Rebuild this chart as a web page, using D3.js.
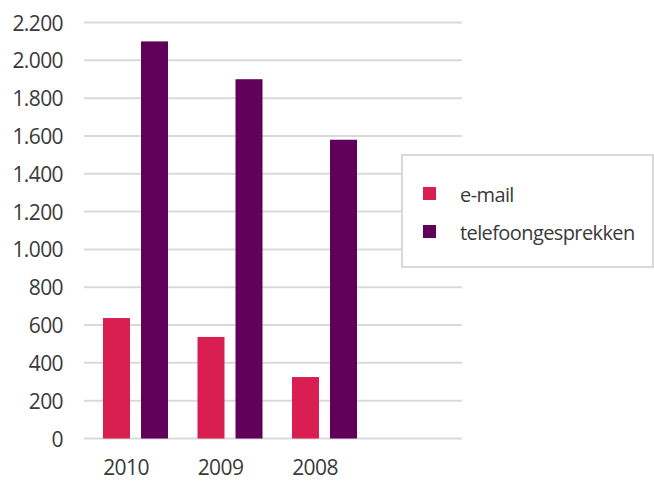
<!DOCTYPE html>
<html>
<head>
<meta charset="utf-8">
<script src="https://cdn.jsdelivr.net/npm/d3@7"></script>
<style>
  html, body { margin: 0; padding: 0; background: #fff; }
  svg { display: block; }
  text { font-family: "Open Sans", "Noto Sans", sans-serif; fill: #3a3a3a; }
</style>
</head>
<body>
<svg id="chart" width="654" height="481"></svg>
<script>
const categories = ["2010", "2009", "2008", ""];
const seriesNames = ["e-mail", "telefoongesprekken"];
const emailValues = [637, 537, 325, null];
const phoneValues = [2100, 1900, 1580, null];
const yTicks = [0, 200, 400, 600, 800, 1000, 1200, 1400, 1600, 1800, 2000, 2200];
const colors = ["#d91e52", "#610058"];

const svg = d3.select("#chart");
const plot = { left: 84, right: 462, top: 22.5, bottom: 438.5 };

const x0 = d3.scaleBand().domain(categories).range([plot.left, plot.right]).padding(0);
const x1 = d3.scaleBand().domain(seriesNames).range([19, 84]).paddingInner(0.29).paddingOuter(0);
const y = d3.scaleLinear().domain([0, 2200]).range([plot.bottom, plot.top]);
const color = d3.scaleOrdinal().domain(seriesNames).range(colors);

const fmt = v => d3.format(",")(v).replace(/,/g, ".");

// gridlines
svg.append("g").selectAll("line").data(yTicks).join("line")
  .attr("x1", plot.left).attr("x2", plot.right)
  .attr("y1", d => y(d)).attr("y2", d => y(d))
  .attr("stroke", "#d9d9d9").attr("stroke-width", 2);

// y labels
const yAxis = d3.axisLeft(y).tickValues(yTicks).tickFormat(fmt).tickSize(0).tickPadding(0);
const gy = svg.append("g").attr("transform", "translate(63,0)").call(yAxis);
gy.select(".domain").remove();
gy.selectAll("text").attr("font-size", 21).attr("letter-spacing", -0.6)
  .attr("fill", "#3a3a3a").attr("font-family", "'Open Sans', sans-serif")
  .attr("dy", "0.36em");

// bars
const data = categories.map((c, i) => ({ cat: c, vals: [
  { key: seriesNames[0], value: emailValues[i] },
  { key: seriesNames[1], value: phoneValues[i] }
]}));

const groups = svg.append("g").selectAll("g").data(data.filter(d => d.cat !== "")).join("g")
  .attr("transform", d => `translate(${x0(d.cat)},0)`);
groups.selectAll("rect").data(d => d.vals).join("rect")
  .attr("x", d => x1(d.key))
  .attr("width", x1.bandwidth())
  .attr("y", d => y(d.value))
  .attr("height", d => y(0) - y(d.value))
  .attr("fill", d => color(d.key));

// x labels
svg.append("g").selectAll("text").data(categories.filter(c => c !== "")).join("text")
  .attr("x", d => x0(d) + 42)
  .attr("y", 475)
  .attr("text-anchor", "middle")
  .attr("font-size", 21).attr("letter-spacing", -0.6)
  .text(d => d);

// legend
const lg = svg.append("g");
lg.append("rect").attr("x", 402).attr("y", 155).attr("width", 251).attr("height", 112)
  .attr("fill", "#fff").attr("stroke", "#d9d9d9").attr("stroke-width", 2);
const items = lg.selectAll("g.item").data(seriesNames).join("g").attr("class", "item")
  .attr("transform", (d, i) => `translate(423,${187 + i * 38})`);
items.append("rect").attr("width", 13).attr("height", 13).attr("fill", d => color(d));
items.append("text").attr("x", 37).attr("y", 14.5).attr("font-size", 20).attr("letter-spacing", -0.6).text(d => d);
</script>
</body>
</html>
